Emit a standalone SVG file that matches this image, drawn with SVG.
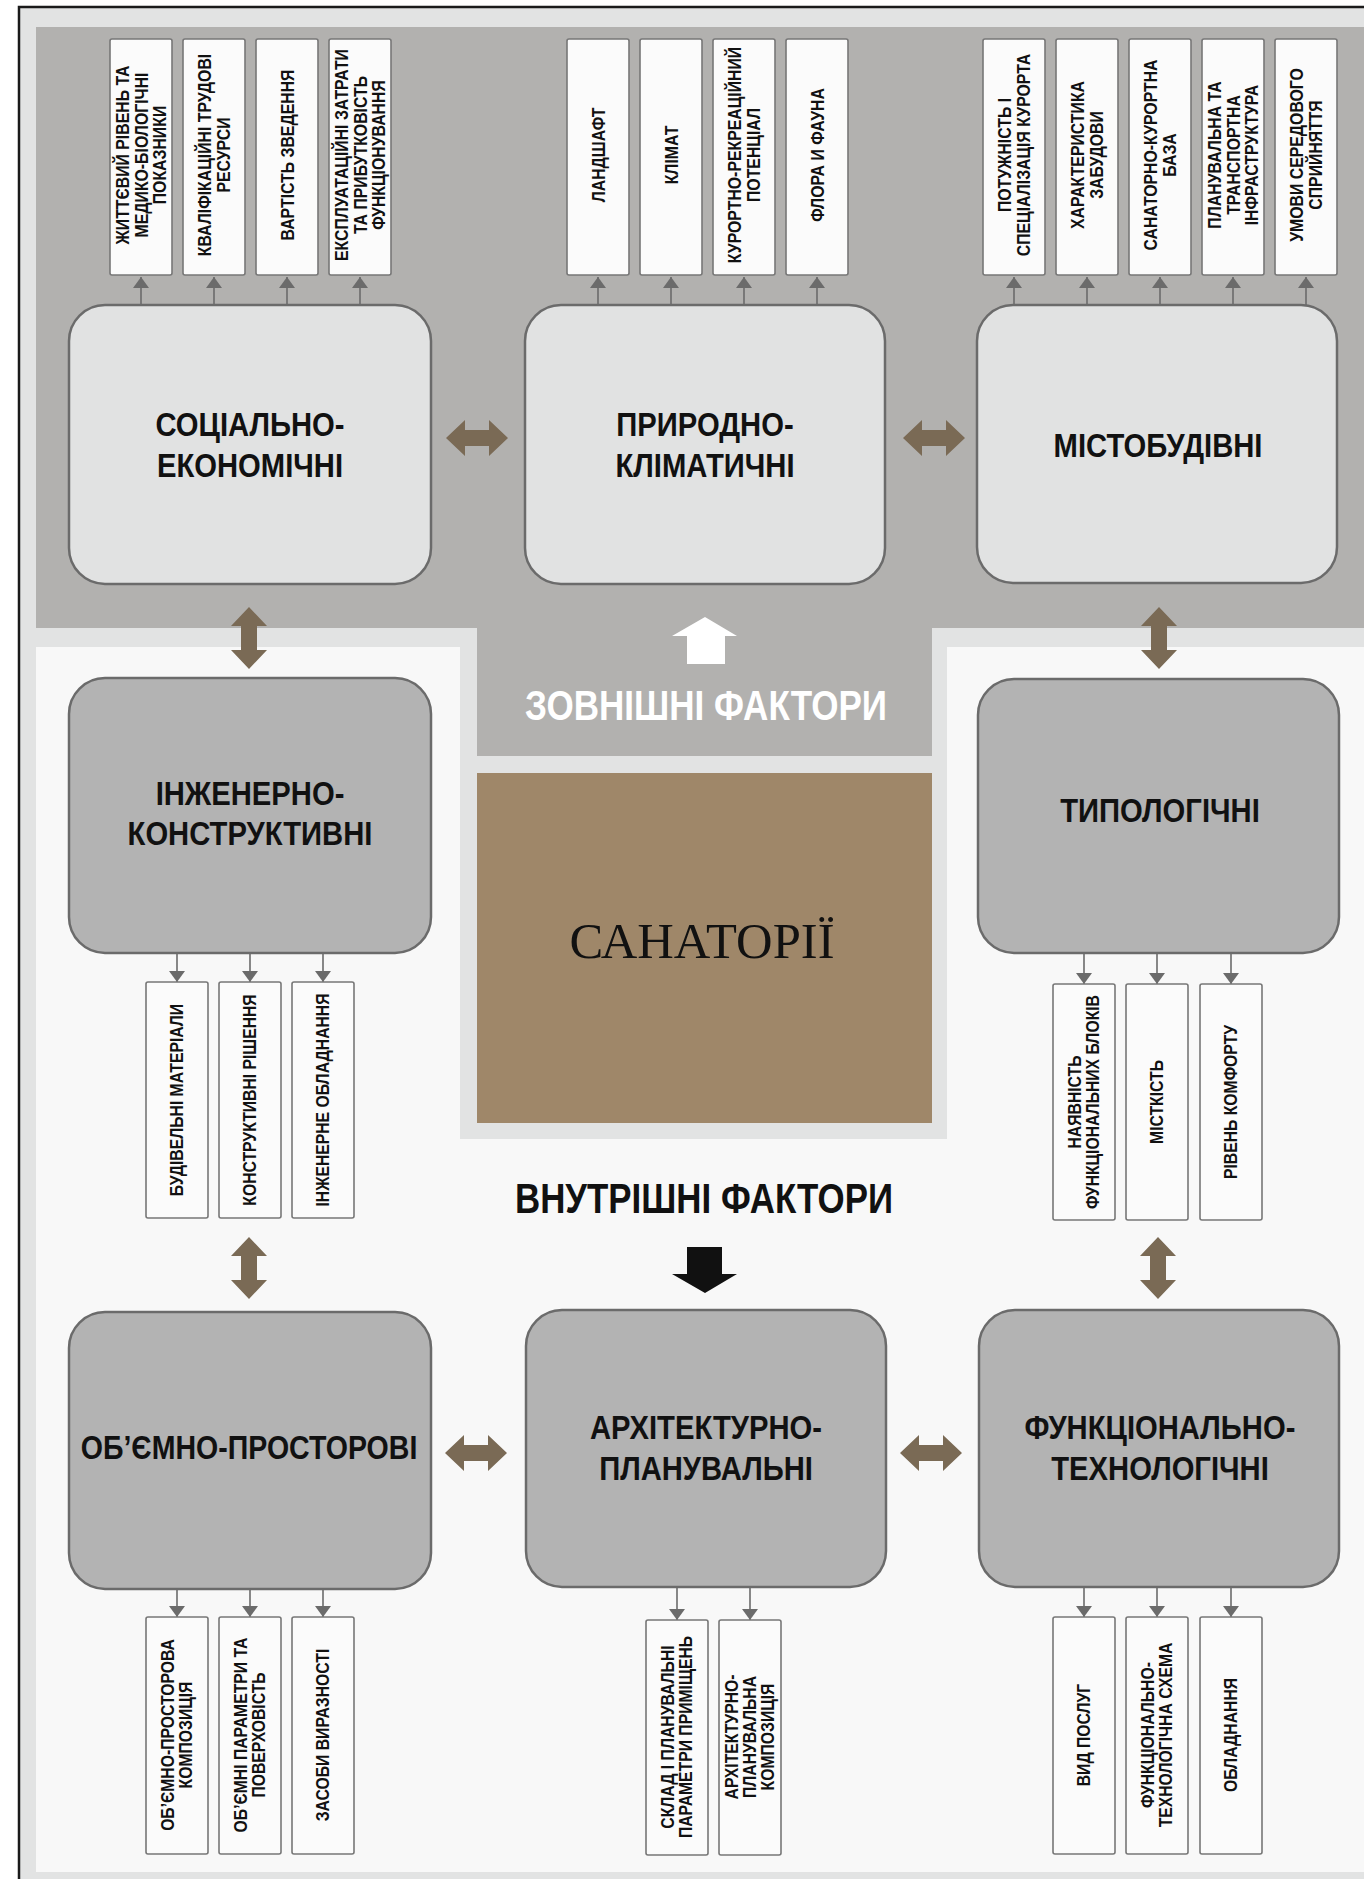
<svg xmlns="http://www.w3.org/2000/svg" width="1364" height="1879" viewBox="0 0 1364 1879">
<style>
.mb{fill:#e1e2e2;stroke:#6b6b6b;stroke-width:2.5}
.gb{fill:#b3b3b3;stroke:#6b6b6b;stroke-width:2.5}
.sb{fill:#fbfbfb;stroke:#777;stroke-width:1.6}
.lbl{font-family:"Liberation Sans",Arial,sans-serif;font-weight:bold;font-size:34px;text-anchor:middle;fill:#111}
.sm{font-family:"Liberation Sans",Arial,sans-serif;font-weight:bold;font-size:18px;text-anchor:middle;fill:#111}
.sm2{font-size:17.5px}
.con{stroke:#6b6b6b;stroke-width:1.6;fill:none;marker-end:url(#tri)}
.dbl{fill:#7a6a55}
.big{font-family:"Liberation Sans",Arial,sans-serif;font-weight:bold;font-size:42px;text-anchor:middle}
</style>
<defs>
<marker id="tri" markerUnits="userSpaceOnUse" markerWidth="11" markerHeight="16" viewBox="0 0 11 16" refX="11" refY="8" orient="auto"><path d="M0,0 L11,8 L0,16 z" fill="#6b6b6b"/></marker>
<path id="dh" d="M-31,0 L-12,-18 L-12,-8 L12,-8 L12,-18 L31,0 L12,18 L12,8 L-12,8 L-12,18 Z"/>
</defs>

<g id="background">
<rect x="0" y="0" width="1364" height="1879" fill="#ffffff"/>
<rect x="19" y="7" width="1350" height="1880" fill="#e2e3e3"/>
<path d="M19,1879 L19,7 L1364,7" fill="none" stroke="#1a1a1a" stroke-width="2.5"/>
<path d="M36,27 L1364,27 L1364,628 L932,628 L932,756 L477,756 L477,628 L36,628 Z" fill="#b2b1af"/>
<path d="M36,647 L460,647 L460,1139 L947,1139 L947,647 L1364,647 L1364,1872 L36,1872 Z" fill="#f8f8f8"/>
</g>

<g id="sanatorii">
<rect x="477" y="773" width="455" height="350" fill="#9f8769"/>
<text x="702" y="958" font-family="'Liberation Serif','Times New Roman',serif" font-size="51" text-anchor="middle" fill="#111" textLength="265" lengthAdjust="spacingAndGlyphs">САНАТОРІЇ</text>
</g>

<g id="external-label">
<polygon points="705,617 737,636 725,636 725,664 687,664 687,636 672,636" fill="#ffffff"/>
<text class="big" x="706" y="720" fill="#ffffff" textLength="362" lengthAdjust="spacingAndGlyphs">ЗОВНІШНІ ФАКТОРИ</text>
</g>

<g id="internal-label">
<text class="big" x="704" y="1213" fill="#111" textLength="378" lengthAdjust="spacingAndGlyphs">ВНУТРІШНІ ФАКТОРИ</text>
<polygon points="687,1247 722,1247 722,1274 737,1274 705,1293 672,1274 687,1274" fill="#111"/>
</g>

<g id="connectors">
<line class="con" x1="141" y1="305" x2="141" y2="277"/>
<line class="con" x1="214" y1="305" x2="214" y2="277"/>
<line class="con" x1="287" y1="305" x2="287" y2="277"/>
<line class="con" x1="360" y1="305" x2="360" y2="277"/>
<line class="con" x1="598" y1="305" x2="598" y2="277"/>
<line class="con" x1="671" y1="305" x2="671" y2="277"/>
<line class="con" x1="744" y1="305" x2="744" y2="277"/>
<line class="con" x1="817" y1="305" x2="817" y2="277"/>
<line class="con" x1="1014" y1="305" x2="1014" y2="277"/>
<line class="con" x1="1087" y1="305" x2="1087" y2="277"/>
<line class="con" x1="1160" y1="305" x2="1160" y2="277"/>
<line class="con" x1="1233" y1="305" x2="1233" y2="277"/>
<line class="con" x1="1306" y1="305" x2="1306" y2="277"/>
<line class="con" x1="177" y1="953" x2="177" y2="982"/>
<line class="con" x1="250" y1="953" x2="250" y2="982"/>
<line class="con" x1="323" y1="953" x2="323" y2="982"/>
<line class="con" x1="1084" y1="953" x2="1084" y2="984"/>
<line class="con" x1="1157" y1="953" x2="1157" y2="984"/>
<line class="con" x1="1231" y1="953" x2="1231" y2="984"/>
<line class="con" x1="177" y1="1589" x2="177" y2="1617"/>
<line class="con" x1="250" y1="1589" x2="250" y2="1617"/>
<line class="con" x1="323" y1="1589" x2="323" y2="1617"/>
<line class="con" x1="677" y1="1587" x2="677" y2="1620"/>
<line class="con" x1="750" y1="1587" x2="750" y2="1620"/>
<line class="con" x1="1084" y1="1587" x2="1084" y2="1617"/>
<line class="con" x1="1157" y1="1587" x2="1157" y2="1617"/>
<line class="con" x1="1231" y1="1587" x2="1231" y2="1617"/>
<use href="#dh" class="dbl" transform="translate(477,438)"/>
<use href="#dh" class="dbl" transform="translate(934,438)"/>
<use href="#dh" class="dbl" transform="translate(249,638) rotate(90)"/>
<use href="#dh" class="dbl" transform="translate(1159,638) rotate(90)"/>
<use href="#dh" class="dbl" transform="translate(249,1268) rotate(90)"/>
<use href="#dh" class="dbl" transform="translate(1158,1268) rotate(90)"/>
<use href="#dh" class="dbl" transform="translate(476,1453)"/>
<use href="#dh" class="dbl" transform="translate(931,1453)"/>
</g>

<g id="n-social">
<rect class="mb" x="69" y="305" width="362" height="279" rx="36"/>
<text class="lbl" transform="translate(250,0) scale(0.86,1)"><tspan x="0" y="436">СОЦІАЛЬНО-</tspan><tspan x="0" y="477">ЕКОНОМІЧНІ</tspan></text>
</g>
<g id="n-natural">
<rect class="mb" x="525" y="305" width="360" height="279" rx="36"/>
<text class="lbl" transform="translate(705,0) scale(0.86,1)"><tspan x="0" y="436">ПРИРОДНО-</tspan><tspan x="0" y="477">КЛІМАТИЧНІ</tspan></text>
</g>
<g id="n-urban">
<rect class="mb" x="977" y="305" width="360" height="278" rx="36"/>
<text class="lbl" transform="translate(1158,0) scale(0.86,1)"><tspan x="0" y="457">МІСТОБУДІВНІ</tspan></text>
</g>
<g id="n-engineering">
<rect class="gb" x="69" y="678" width="362" height="275" rx="36"/>
<text class="lbl" transform="translate(250,0) scale(0.86,1)"><tspan x="0" y="805">ІНЖЕНЕРНО-</tspan><tspan x="0" y="845">КОНСТРУКТИВНІ</tspan></text>
</g>
<g id="n-typological">
<rect class="gb" x="978" y="679" width="361" height="274" rx="36"/>
<text class="lbl" transform="translate(1160,0) scale(0.86,1)"><tspan x="0" y="822">ТИПОЛОГІЧНІ</tspan></text>
</g>
<g id="n-volume">
<rect class="gb" x="69" y="1312" width="362" height="277" rx="36"/>
<text class="lbl" transform="translate(249,0) scale(0.84,1)"><tspan x="0" y="1459">ОБ’ЄМНО-ПРОСТОРОВІ</tspan></text>
</g>
<g id="n-architectural">
<rect class="gb" x="526" y="1310" width="360" height="277" rx="36"/>
<text class="lbl" transform="translate(706,0) scale(0.86,1)"><tspan x="0" y="1439">АРХІТЕКТУРНО-</tspan><tspan x="0" y="1480">ПЛАНУВАЛЬНІ</tspan></text>
</g>
<g id="n-functional">
<rect class="gb" x="979" y="1310" width="360" height="277" rx="36"/>
<text class="lbl" transform="translate(1160,0) scale(0.86,1)"><tspan x="0" y="1439">ФУНКЦІОНАЛЬНО-</tspan><tspan x="0" y="1480">ТЕХНОЛОГІЧНІ</tspan></text>
</g>

<g id="s-top-left">
<rect class="sb" x="110" y="39" width="62" height="236" rx="2"/>
<text class="sm" transform="translate(141,155) rotate(-90) scale(0.88,1)"><tspan x="0" y="-12.5">ЖИТТЄВИЙ РІВЕНЬ ТА</tspan><tspan x="0" y="6.5">МЕДИКО-БІОЛОГІЧНІ</tspan><tspan x="0" y="25.5">ПОКАЗНИКИ</tspan></text>
<rect class="sb" x="183" y="39" width="62" height="236" rx="2"/>
<text class="sm" transform="translate(214,155) rotate(-90) scale(0.88,1)"><tspan x="0" y="-3">КВАЛІФІКАЦІЙНІ ТРУДОВІ</tspan><tspan x="0" y="16">РЕСУРСИ</tspan></text>
<rect class="sb" x="256" y="39" width="62" height="236" rx="2"/>
<text class="sm" transform="translate(287,155) rotate(-90) scale(0.88,1)"><tspan x="0" y="6.5">ВАРТІСТЬ ЗВЕДЕННЯ</tspan></text>
<rect class="sb" x="329" y="39" width="62" height="236" rx="2"/>
<text class="sm" transform="translate(360,155) rotate(-90) scale(0.88,1)"><tspan x="0" y="-12.5">ЕКСПЛУАТАЦІЙНІ ЗАТРАТИ</tspan><tspan x="0" y="6.5">ТА ПРИБУТКОВІСТЬ</tspan><tspan x="0" y="25.5">ФУНКЦІОНУВАННЯ</tspan></text>
</g>

<g id="s-top-mid">
<rect class="sb" x="567" y="39" width="62" height="236" rx="2"/>
<text class="sm" transform="translate(598,155) rotate(-90) scale(0.88,1)"><tspan x="0" y="6.5">ЛАНДШАФТ</tspan></text>
<rect class="sb" x="640" y="39" width="62" height="236" rx="2"/>
<text class="sm" transform="translate(671,155) rotate(-90) scale(0.88,1)"><tspan x="0" y="6.5">КЛІМАТ</tspan></text>
<rect class="sb" x="713" y="39" width="62" height="236" rx="2"/>
<text class="sm" transform="translate(744,155) rotate(-90) scale(0.88,1)"><tspan x="0" y="-3">КУРОРТНО-РЕКРЕАЦІЙНИЙ</tspan><tspan x="0" y="16">ПОТЕНЦІАЛ</tspan></text>
<rect class="sb" x="786" y="39" width="62" height="236" rx="2"/>
<text class="sm" transform="translate(817,155) rotate(-90) scale(0.88,1)"><tspan x="0" y="6.5">ФЛОРА И ФАУНА</tspan></text>
</g>

<g id="s-top-right">
<rect class="sb" x="983" y="39" width="62" height="236" rx="2"/>
<text class="sm" transform="translate(1014,155) rotate(-90) scale(0.88,1)"><tspan x="0" y="-3">ПОТУЖНІСТЬ І</tspan><tspan x="0" y="16">СПЕЦІАЛІЗАЦІЯ КУРОРТА</tspan></text>
<rect class="sb" x="1056" y="39" width="62" height="236" rx="2"/>
<text class="sm" transform="translate(1087,155) rotate(-90) scale(0.88,1)"><tspan x="0" y="-3">ХАРАКТЕРИСТИКА</tspan><tspan x="0" y="16">ЗАБУДОВИ</tspan></text>
<rect class="sb" x="1129" y="39" width="62" height="236" rx="2"/>
<text class="sm" transform="translate(1160,155) rotate(-90) scale(0.88,1)"><tspan x="0" y="-3">САНАТОРНО-КУРОРТНА</tspan><tspan x="0" y="16">БАЗА</tspan></text>
<rect class="sb" x="1202" y="39" width="62" height="236" rx="2"/>
<text class="sm" transform="translate(1233,155) rotate(-90) scale(0.88,1)"><tspan x="0" y="-12.5">ПЛАНУВАЛЬНА ТА</tspan><tspan x="0" y="6.5">ТРАНСПОРТНА</tspan><tspan x="0" y="25.5">ІНФРАСТРУКТУРА</tspan></text>
<rect class="sb" x="1275" y="39" width="62" height="236" rx="2"/>
<text class="sm" transform="translate(1306,155) rotate(-90) scale(0.88,1)"><tspan x="0" y="-3">УМОВИ СЕРЕДОВОГО</tspan><tspan x="0" y="16">СПРИЙНЯТТЯ</tspan></text>
</g>

<g id="s-mid-left">
<rect class="sb" x="146" y="982" width="62" height="236" rx="2"/>
<text class="sm sm2" transform="translate(177,1100) rotate(-90) scale(0.9,1)"><tspan x="0" y="6">БУДІВЕЛЬНІ МАТЕРІАЛИ</tspan></text>
<rect class="sb" x="219" y="982" width="62" height="236" rx="2"/>
<text class="sm sm2" transform="translate(250,1100) rotate(-90) scale(0.9,1)"><tspan x="0" y="6">КОНСТРУКТИВНІ РІШЕННЯ</tspan></text>
<rect class="sb" x="292" y="982" width="62" height="236" rx="2"/>
<text class="sm sm2" transform="translate(323,1100) rotate(-90) scale(0.9,1)"><tspan x="0" y="6">ІНЖЕНЕРНЕ ОБЛАДНАННЯ</tspan></text>
</g>

<g id="s-mid-right">
<rect class="sb" x="1053" y="984" width="62" height="236" rx="2"/>
<text class="sm sm2" transform="translate(1084,1102) rotate(-90) scale(0.9,1)"><tspan x="0" y="-3">НАЯВНІСТЬ</tspan><tspan x="0" y="15">ФУНКЦІОНАЛЬНИХ БЛОКІВ</tspan></text>
<rect class="sb" x="1126" y="984" width="62" height="236" rx="2"/>
<text class="sm sm2" transform="translate(1157,1102) rotate(-90) scale(0.9,1)"><tspan x="0" y="6">МІСТКІСТЬ</tspan></text>
<rect class="sb" x="1200" y="984" width="62" height="236" rx="2"/>
<text class="sm sm2" transform="translate(1231,1102) rotate(-90) scale(0.9,1)"><tspan x="0" y="6">РІВЕНЬ КОМФОРТУ</tspan></text>
</g>

<g id="s-bottom-left">
<rect class="sb" x="146" y="1617" width="62" height="237" rx="2"/>
<text class="sm sm2" transform="translate(177,1735) rotate(-90) scale(0.9,1)"><tspan x="0" y="-3">ОБ’ЄМНО-ПРОСТОРОВА</tspan><tspan x="0" y="15">КОМПОЗИЦІЯ</tspan></text>
<rect class="sb" x="219" y="1617" width="62" height="237" rx="2"/>
<text class="sm sm2" transform="translate(250,1735) rotate(-90) scale(0.9,1)"><tspan x="0" y="-3">ОБ’ЄМНІ ПАРАМЕТРИ ТА</tspan><tspan x="0" y="15">ПОВЕРХОВІСТЬ</tspan></text>
<rect class="sb" x="292" y="1617" width="62" height="237" rx="2"/>
<text class="sm sm2" transform="translate(323,1735) rotate(-90) scale(0.9,1)"><tspan x="0" y="6">ЗАСОБИ ВИРАЗНОСТІ</tspan></text>
</g>

<g id="s-bottom-mid">
<rect class="sb" x="646" y="1620" width="62" height="235" rx="2"/>
<text class="sm sm2" transform="translate(677,1737) rotate(-90) scale(0.9,1)"><tspan x="0" y="-3">СКЛАД І ПЛАНУВАЛЬНІ</tspan><tspan x="0" y="15">ПАРАМЕТРИ ПРИМІЩЕНЬ</tspan></text>
<rect class="sb" x="719" y="1620" width="62" height="235" rx="2"/>
<text class="sm sm2" transform="translate(750,1737) rotate(-90) scale(0.9,1)"><tspan x="0" y="-12">АРХІТЕКТУРНО-</tspan><tspan x="0" y="6">ПЛАНУВАЛЬНА</tspan><tspan x="0" y="24">КОМПОЗИЦІЯ</tspan></text>
</g>

<g id="s-bottom-right">
<rect class="sb" x="1053" y="1617" width="62" height="237" rx="2"/>
<text class="sm sm2" transform="translate(1084,1735) rotate(-90) scale(0.9,1)"><tspan x="0" y="6">ВИД ПОСЛУГ</tspan></text>
<rect class="sb" x="1126" y="1617" width="62" height="237" rx="2"/>
<text class="sm sm2" transform="translate(1157,1735) rotate(-90) scale(0.9,1)"><tspan x="0" y="-3">ФУНКЦІОНАЛЬНО-</tspan><tspan x="0" y="15">ТЕХНОЛОГІЧНА СХЕМА</tspan></text>
<rect class="sb" x="1200" y="1617" width="62" height="237" rx="2"/>
<text class="sm sm2" transform="translate(1231,1735) rotate(-90) scale(0.9,1)"><tspan x="0" y="6">ОБЛАДНАННЯ</tspan></text>
</g>
</svg>
